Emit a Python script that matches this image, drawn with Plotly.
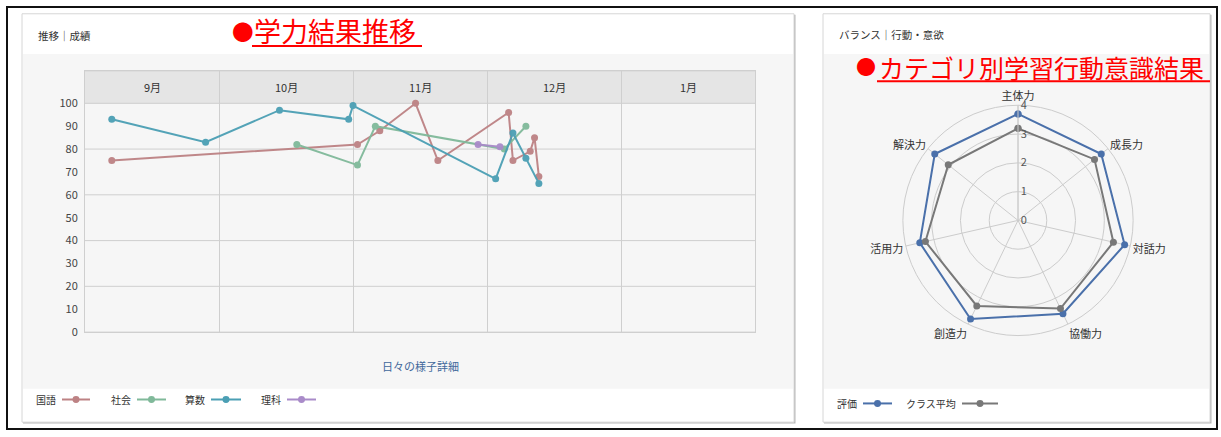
import calendar
import plotly.graph_objects as go

W, H = 1221, 437
FONT = "Noto Sans CJK JP"

# ---------------- data ----------------
months = ["9月", "10月", "11月", "12月", "1月"]
month_years = [(2023, 9), (2023, 10), (2023, 11), (2023, 12), (2024, 1)]
y_tick_vals = list(range(0, 101, 10))
y_grid_vals = list(range(0, 101, 20))

kokugo_dates = ["2023-09-07", "2023-11-02", "2023-11-07", "2023-11-15", "2023-11-20",
                "2023-12-06", "2023-12-07", "2023-12-11", "2023-12-12", "2023-12-13"]
kokugo_vals = [75, 82, 88, 100, 75, 96, 75, 79, 85, 68]

shakai_dates = ["2023-10-19", "2023-11-02", "2023-11-06", "2023-12-05", "2023-12-10"]
shakai_vals = [82, 73, 90, 80, 90]

sansu_dates = ["2023-09-07", "2023-09-28", "2023-10-15", "2023-10-31", "2023-11-01",
               "2023-12-03", "2023-12-07", "2023-12-10", "2023-12-13"]
sansu_vals = [93, 83, 97, 93, 99, 67, 87, 76, 65]

rika_dates = ["2023-11-29", "2023-12-04"]
rika_vals = [82, 81]

subjects = ["国語", "社会", "算数", "理科"]
subject_colors = ["#bd8284", "#80b99a", "#4b9fb4", "#a98bc9"]

radar_cats = ["主体力", "成長力", "対話力", "協働力", "創造力", "活用力", "解決力"]
hyouka_vals = [3.7, 3.7, 3.8, 3.6, 3.8, 3.5, 3.7]
class_avg_vals = [3.2, 3.4, 3.4, 3.4, 3.3, 3.3, 3.1]
radar_names = ["評価", "クラス平均"]
radar_colors = ["#4a70aa", "#787878"]
radar_ticks = [0, 1, 2, 3, 4]


def month_pos(d):
    y, m, day = (int(p) for p in d.split("-"))
    idx = month_years.index((y, m))
    return idx + (day - 1) / calendar.monthrange(y, m)[1]


def px(x):
    return x / W


def py(y):
    return 1 - y / H


# ---------------- geometry ----------------
PL, PR, PT, PB = 85, 755, 72, 337.5      # left plot area in pixels
Y100 = 105                               # pixel of value 100
ymax = 100 * (PB - PT) / (PB - Y100)

fig = go.Figure()

series = [(kokugo_dates, kokugo_vals), (shakai_dates, shakai_vals),
          (sansu_dates, sansu_vals), (rika_dates, rika_vals)]
for name, color, (ds, vs) in zip(subjects, subject_colors, series):
    fig.add_trace(go.Scatter(
        x=[month_pos(d) for d in ds], y=vs, name=name, mode="lines+markers",
        line=dict(color=color, width=2), marker=dict(color=color, size=7),
        xaxis="x", yaxis="y", showlegend=False, opacity=0.95))

for name, color, vals in zip(radar_names, radar_colors, [hyouka_vals, class_avg_vals]):
    fig.add_trace(go.Scatterpolar(
        r=vals + vals[:1], theta=radar_cats + radar_cats[:1], name=name,
        mode="lines+markers", line=dict(color=color, width=2),
        marker=dict(color=color, size=7), showlegend=False))

shapes = []
annotations = []

# black outer frame
shapes.append(dict(type="rect", xref="paper", yref="paper", x0=px(7), x1=px(1217),
                   y0=py(436), y1=py(7), line=dict(color="#111111", width=2),
                   fillcolor="rgba(0,0,0,0)", layer="below"))

# cards
for (x0, x1) in [(22, 794), (823, 1210)]:
    shapes.append(dict(type="rect", xref="paper", yref="paper", x0=px(x0 + 1), x1=px(x1 + 1.5),
                       y0=py(430.5), y1=py(15), line=dict(width=0), fillcolor="#b8b8b8",
                       layer="below"))
    shapes.append(dict(type="rect", xref="paper", yref="paper", x0=px(x0), x1=px(x1),
                       y0=py(429), y1=py(14), line=dict(color="#d6d6d6", width=1),
                       fillcolor="#ffffff", layer="below"))
    shapes.append(dict(type="rect", xref="paper", yref="paper", x0=px(x0 + 1), x1=px(x1 - 1),
                       y0=py(395), y1=py(55), line=dict(width=0), fillcolor="#f6f6f6",
                       layer="below"))

# header band of month columns
shapes.append(dict(type="rect", xref="x domain", yref="y", x0=0, x1=1, y0=100, y1=ymax,
                   fillcolor="#e5e5e5", line=dict(width=0), layer="below"))
# horizontal grid lines
for v in y_grid_vals:
    shapes.append(dict(type="line", xref="x domain", yref="y", x0=0, x1=1, y0=v, y1=v,
                       line=dict(color="#cfcfcf", width=1), layer="below"))
shapes.append(dict(type="line", xref="x domain", yref="y", x0=0, x1=1, y0=ymax, y1=ymax,
                   line=dict(color="#cfcfcf", width=1), layer="below"))

# month labels in header
for i, m in enumerate(months):
    annotations.append(dict(x=i + 0.5, y=(100 + ymax) / 2, xref="x", yref="y", text=m,
                            showarrow=False, font=dict(family=FONT, size=11, color="#333333"),
                            xanchor="center", yanchor="middle"))

# card titles
annotations.append(dict(x=px(36), y=py(36), xref="paper", yref="paper", text="推移｜成績",
                        showarrow=False, xanchor="left", yanchor="middle",
                        font=dict(family=FONT, size=10.5, color="#333333")))
annotations.append(dict(x=px(837), y=py(35), xref="paper", yref="paper", text="バランス｜行動・意欲",
                        showarrow=False, xanchor="left", yanchor="middle",
                        font=dict(family=FONT, size=10.5, color="#333333")))

# red overlay headings
def red_heading(dot_x, text_x, text_w, yc, size, text):
    annotations.append(dict(x=px(dot_x), y=py(yc), xref="paper", yref="paper", text="●",
                            showarrow=False, xanchor="left", yanchor="middle",
                            font=dict(family=FONT, size=size * 0.8, color="#ff0000")))
    annotations.append(dict(x=px(text_x), y=py(yc), xref="paper", yref="paper", text=text,
                            showarrow=False, xanchor="left", yanchor="middle",
                            font=dict(family=FONT, size=size, color="#ff0000")))
    shapes.append(dict(type="line", xref="paper", yref="paper", x0=px(text_x), x1=px(text_x + text_w),
                       y0=py(yc + size * 0.58), y1=py(yc + size * 0.58),
                       line=dict(color="#ff0000", width=2)))

red_heading(230, 252, 170, 31, 27, "学力結果推移")
red_heading(854, 877, 333, 68, 25, "カテゴリ別学習行動意識結果")

# link text
annotations.append(dict(x=px(420), y=py(372), xref="paper", yref="paper", text="日々の様子詳細",
                        showarrow=False, xanchor="center", yanchor="middle",
                        font=dict(family=FONT, size=11, color="#41689b")))

# custom legends (text, then line with marker)
def legend_item(lx0, lx1, yc, name, color):
    annotations.append(dict(x=px(lx0 - 4), y=py(yc), xref="paper", yref="paper", text=name,
                            showarrow=False, xanchor="right", yanchor="middle",
                            font=dict(family=FONT, size=10, color="#333333")))
    shapes.append(dict(type="line", xref="paper", yref="paper", x0=px(lx0), x1=px(lx1),
                       y0=py(yc), y1=py(yc), line=dict(color=color, width=2)))
    cx = (lx0 + lx1) / 2
    shapes.append(dict(type="circle", xref="paper", yref="paper", x0=px(cx - 3.5), x1=px(cx + 3.5),
                       y0=py(yc + 3.5), y1=py(yc - 3.5), fillcolor=color, line=dict(width=0)))

left_leg_lines = [(62, 90), (137, 166), (211, 241), (287, 316)]
for (a, b), name, color in zip(left_leg_lines, subjects, subject_colors):
    legend_item(a, b, 406, name, color)
right_leg_lines = [(863, 892), (962, 998)]
for (a, b), name, color in zip(right_leg_lines, radar_names, radar_colors):
    legend_item(a, b, 410, name, color)

# polar domain
CX, CY, R = 1018, 224, 117

fig.update_layout(
    width=W, height=H, margin=dict(l=0, r=0, t=0, b=0),
    paper_bgcolor="#ffffff", plot_bgcolor="#fcfcfc",
    font=dict(family=FONT, size=11, color="#333333"),
    xaxis=dict(domain=[px(PL), px(PR)], range=[0, len(months)], tickvals=list(range(1, len(months))),
               showticklabels=False, showgrid=True, gridcolor="#cfcfcf", gridwidth=1,
               zeroline=False, showline=True, linecolor="#cfcfcf", mirror=True, ticks=""),
    yaxis=dict(domain=[py(PB), py(PT)], range=[0, ymax], tickvals=y_tick_vals,
               showgrid=False, zeroline=False, showline=True, linecolor="#cfcfcf", mirror=True,
               ticks="", tickfont=dict(size=11, color="#444444"), ticklabelstandoff=4),
    polar=dict(
        domain=dict(x=[px(CX - R), px(CX + R)], y=[py(CY + R), py(CY - R)]),
        bgcolor="rgba(0,0,0,0)",
        radialaxis=dict(range=[0, 4], tickvals=radar_ticks, angle=90, tickangle=90,
                        showline=True, linecolor="#cccccc", gridcolor="#cccccc",
                        tickfont=dict(size=11, color="#555555"), ticks=""),
        angularaxis=dict(rotation=90, direction="clockwise", linecolor="#cccccc",
                         gridcolor="#cccccc", tickfont=dict(size=11, color="#333333"), ticks=""),
    ),
    shapes=shapes, annotations=annotations,
)

fig.write_html("out.html")
